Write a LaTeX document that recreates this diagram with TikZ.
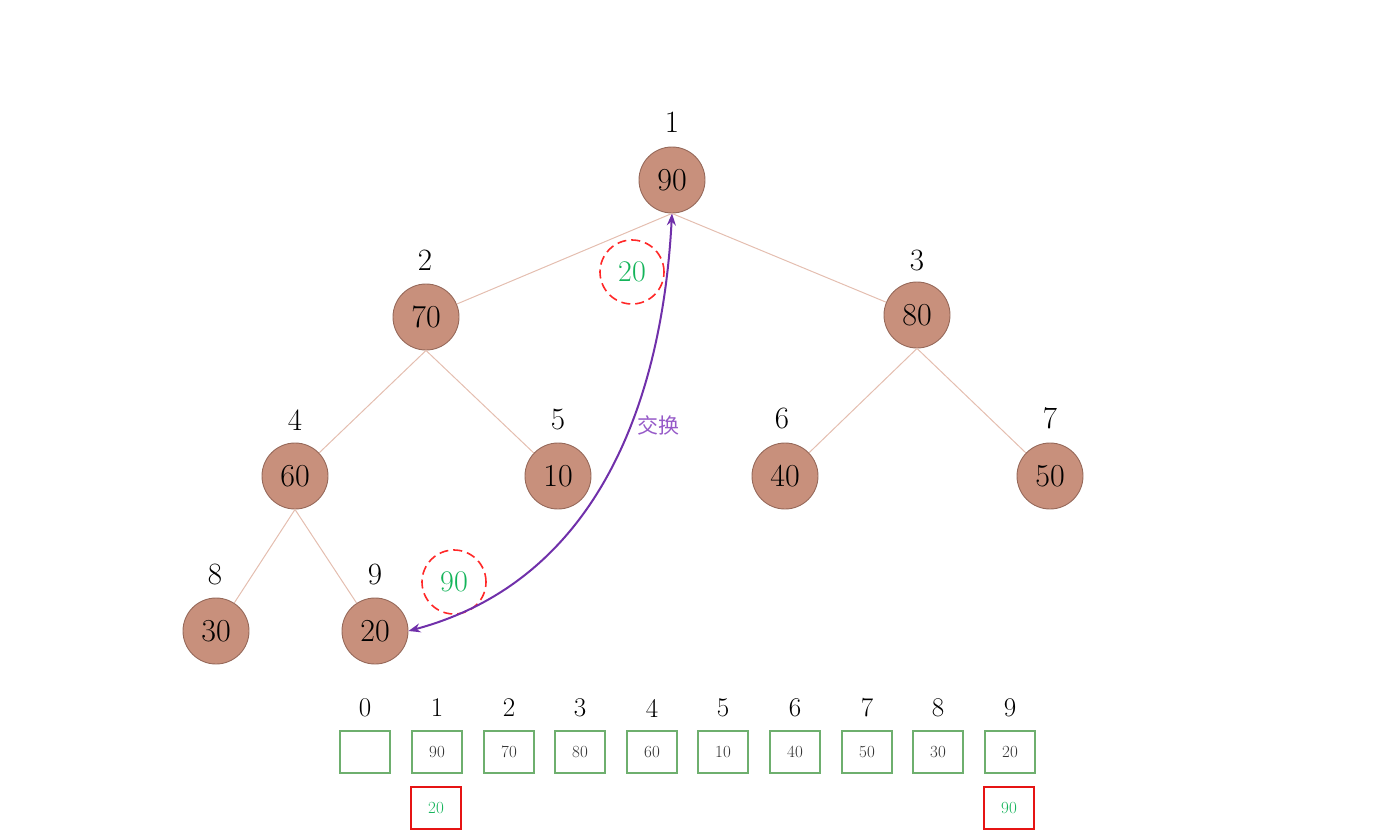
\documentclass[tikz,border=0pt]{standalone}
\usepackage{fontspec}
\newfontfamily\cjkfont{Noto Sans CJK SC}
\usetikzlibrary{arrows.meta}
\definecolor{nodefill}{RGB}{200,144,124}
\definecolor{nodeline}{RGB}{150,105,90}
\definecolor{edgecol}{RGB}{228,190,176}
\definecolor{arrowcol}{RGB}{112,48,170}
\definecolor{labpurple}{RGB}{150,90,200}
\definecolor{txtgreen}{RGB}{20,180,90}
\definecolor{dashred}{RGB}{255,40,40}
\definecolor{boxgreen}{RGB}{110,175,110}
\definecolor{boxred}{RGB}{230,20,20}
\definecolor{txtgray}{RGB}{50,50,50}
\tikzset{
  heapnode/.style={circle,fill=nodefill,draw=nodeline,line width=0.9pt,minimum size=66pt,inner sep=0pt,font=\fontsize{32}{32}\selectfont},
  idx/.style={inner sep=0pt,font=\fontsize{31}{31}\selectfont},
  aidx/.style={inner sep=0pt,font=\fontsize{27}{27}\selectfont},
  edge/.style={draw=edgecol,line width=1pt},
  dashcirc/.style={circle,draw=dashred,dashed,dash pattern=on 9pt off 5pt,line width=1.6pt,minimum size=64pt,inner sep=0pt,text=txtgreen,font=\fontsize{30}{30}\selectfont},
  cell/.style={rectangle,draw=boxgreen,line width=1.2pt,minimum width=50pt,minimum height=42pt,inner sep=0pt,text=txtgray,font=\fontsize{17}{17}\selectfont},
  redcell/.style={rectangle,draw=boxred,line width=1.4pt,minimum width=50pt,minimum height=42pt,inner sep=0pt,text=txtgreen,font=\fontsize{17}{17}\selectfont},
  swaparrow/.style={draw=arrowcol,line width=2pt,{Stealth[length=12pt,width=9pt]}-{Stealth[length=12pt,width=9pt]}},
}
\begin{document}
\begin{tikzpicture}[x=1pt,y=-1pt]
\useasboundingbox (0,0) rectangle (1380,836);
% heap nodes
\node[heapnode] (n1) at (672,180) {90};
\node[heapnode] (n2) at (426,317) {70};
\node[heapnode] (n3) at (917,315) {80};
\node[heapnode] (n4) at (295,476) {60};
\node[heapnode] (n5) at (558,476) {10};
\node[heapnode] (n6) at (785,476) {40};
\node[heapnode] (n7) at (1050,476) {50};
\node[heapnode] (n8) at (216,631) {30};
\node[heapnode] (n9) at (375,631) {20};
% index labels
\node[idx] (i1) at (672,122) {1};
\node[idx] (i2) at (425,260) {2};
\node[idx] (i3) at (917,260) {3};
\node[idx] (i4) at (295,420) {4};
\node[idx] (i5) at (558,420) {5};
\node[idx] (i6) at (782,418) {6};
\node[idx] (i7) at (1050,418) {7};
\node[idx] (i8) at (215,574) {8};
\node[idx] (i9) at (375,574) {9};
% edges
\draw[edge] (n1.south) -- (n2);
\draw[edge] (n1.south) -- (n3);
\draw[edge] (n2.south) -- (n4);
\draw[edge] (n2.south) -- (n5);
\draw[edge] (n3.south) -- (n6);
\draw[edge] (n3.south) -- (n7);
\draw[edge] (n4.south) -- (n8);
\draw[edge] (n4.south) -- (n9);
% dashed circles
\node[dashcirc] (d20) at (632,272) {20};
\node[dashcirc] (d90) at (454,582) {90};
% swap arrow
\draw[swaparrow] (n9.east) to[out=15,in=-93,looseness=1.0] (n1.south);
\node[text=labpurple,font=\cjkfont\fontsize{21}{21}\selectfont,inner sep=0pt] (swl) at (658,425) {交换};
% array
\foreach \i/\x/\v in {0/365/,1/437/90,2/509/70,3/580/80,4/652/60,5/723/10,6/795/40,7/867/50,8/938/30,9/1010/20}{
  \node[aidx] (a\i) at (\x,708) {\i};
  \node[cell] (c\i) at (\x,752) {\v};
}
\node[redcell] (r1) at (436,808) {20};
\node[redcell] (r9) at (1009,808) {90};
\end{tikzpicture}
\end{document}
